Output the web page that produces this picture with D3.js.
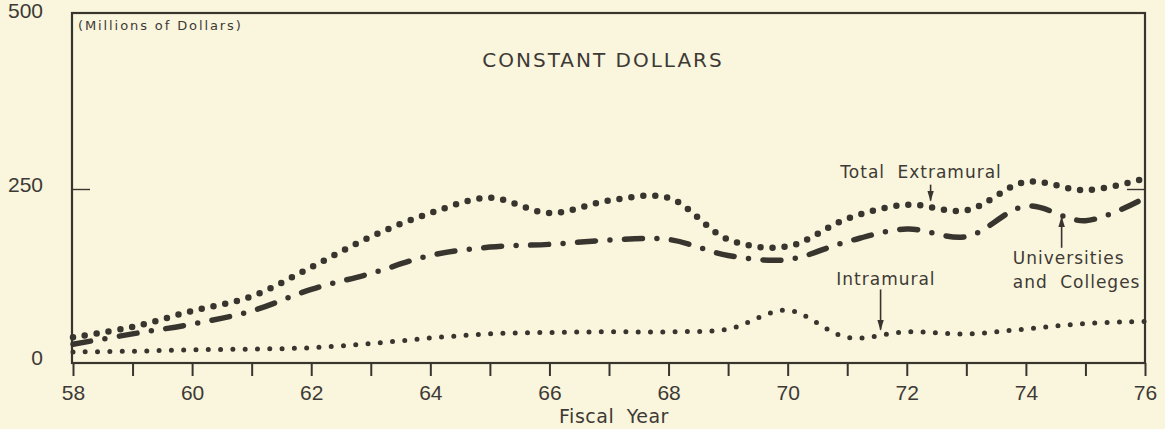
<!DOCTYPE html>
<html>
<head>
<meta charset="utf-8">
<script src="https://cdn.jsdelivr.net/npm/d3@7"></script>
<style>
  body { margin: 0; background: #faf5dd; }
  text { fill: #3d3a35; }
  .num { font-family: "Liberation Sans", Arial, sans-serif; font-size: 21px; }
  .lbl { font-family: "DejaVu Sans", sans-serif; }
</style>
</head>
<body>
<svg id="chart" width="1165" height="429"></svg>
<script>
// fiscal years and values (millions of constant dollars)
const years = [58, 59, 60, 61, 62, 63, 64, 65, 66, 67, 68, 69, 70, 71, 72, 73, 74, 75, 76];
const totalExtramural = [37, 52, 75, 96, 138, 182, 216, 238, 216, 234, 238, 178, 168, 208, 228, 220, 261, 249, 266];
const universities   = [27, 42, 56, 75, 106, 129, 155, 167, 171, 177, 178, 155, 149, 175, 193, 182, 226, 205, 238];
const intramural     = [16, 17, 19, 20, 22, 28, 36, 42, 44, 45, 45, 49, 76, 37, 45, 42, 49, 57, 60];
const yTicks = [0, 250, 500];

const ink = "#38352f";
const svg = d3.select("#chart");
const box = {left: 72, right: 1145, top: 13, bottom: 363};

let x = d3.scaleLinear().domain([58, 76]).range([73, box.right]);
let y = d3.scaleLinear().domain([0, 500]).range([box.bottom, 16]);

// frame
svg.append("rect")
    .attr("x", box.left)
    .attr("y", box.top)
    .attr("width", box.right - box.left)
    .attr("height", box.bottom - box.top)
    .attr("fill", "none")
    .attr("stroke", ink)
    .attr("stroke-width", 2.2);

// bottom axis: a tick every year, a label every other year
let xAxis = d3.axisBottom(x)
    .tickValues(years)
    .tickSize(13)
    .tickPadding(9)
    .tickFormat(function(d) { return d % 2 === 0 ? d : ""; });
let gx = svg.append("g")
    .attr("transform", "translate(0," + box.bottom + ")")
    .call(xAxis);
gx.select(".domain").remove();
gx.selectAll("line").attr("stroke", ink).attr("stroke-width", 2);
gx.selectAll("text").attr("class", "num").attr("fill", ink);

// left labels and the short inner tick at 250
svg.selectAll(".ylab")
    .data(yTicks)
    .enter().append("text")
    .attr("class", "num ylab")
    .attr("x", 43)
    .attr("y", function(d) { return y(d) + 2; })
    .attr("text-anchor", "end")
    .text(function(d) { return d; });

svg.selectAll(".ytick")
    .data([250, 250])
    .enter().append("line")
    .attr("x1", function(d, i) { return i === 0 ? box.left : box.right - 18; })
    .attr("x2", function(d, i) { return i === 0 ? box.left + 18 : box.right; })
    .attr("y1", function(d) { return y(d); })
    .attr("y2", function(d) { return y(d); })
    .attr("stroke", ink)
    .attr("stroke-width", 1.4);

// series
let line = d3.line()
    .x(function(d, i) { return x(years[i]); })
    .y(function(d) { return y(d); })
    .curve(d3.curveCatmullRom.alpha(0.5));

let series = [
    {values: totalExtramural, width: 6.5, dash: "0 12"},
    {values: universities, width: 5.5, dash: "18 14.5 0 14.5"},
    {values: intramural, width: 5, dash: "0 12.3"}
];
svg.selectAll(".series")
    .data(series)
    .enter().append("path")
    .attr("class", "series")
    .attr("d", function(d) { return line(d.values); })
    .attr("fill", "none")
    .attr("stroke", ink)
    .attr("stroke-width", function(d) { return d.width; })
    .attr("stroke-linecap", "round")
    .attr("stroke-dasharray", function(d) { return d.dash; });

// arrowhead
svg.append("defs").append("marker")
    .attr("id", "head")
    .attr("markerUnits", "userSpaceOnUse")
    .attr("viewBox", "0 -4 11 8")
    .attr("refX", 10)
    .attr("refY", 0)
    .attr("markerWidth", 11)
    .attr("markerHeight", 8)
    .attr("orient", "auto")
    .append("path")
    .attr("d", "M0,-3.3L11,0L0,3.3Z")
    .attr("fill", ink);

// annotations, placed in data units
let arrows = [
    {x: 72.4, from: 257, to: 234},
    {x: 71.56, from: 106, to: 48},
    {x: 74.6, from: 166, to: 210}
];
svg.selectAll(".arrow")
    .data(arrows)
    .enter().append("line")
    .attr("x1", function(d) { return x(d.x); })
    .attr("x2", function(d) { return x(d.x); })
    .attr("y1", function(d) { return y(d.from); })
    .attr("y2", function(d) { return y(d.to); })
    .attr("stroke", ink)
    .attr("stroke-width", 1.6)
    .attr("marker-end", "url(#head)");

let notes = [
    {text: "Total Extramural", x: 72.24, y: 267, anchor: "middle"},
    {text: "Intramural", x: 71.65, y: 112, anchor: "middle"},
    {text: "Universities", x: 73.78, y: 143, anchor: "start"},
    {text: "and Colleges", x: 73.78, y: 108, anchor: "start"}
];
svg.selectAll(".note")
    .data(notes)
    .enter().append("text")
    .attr("class", "lbl note")
    .attr("x", function(d) { return x(d.x); })
    .attr("y", function(d) { return y(d.y); })
    .attr("text-anchor", function(d) { return d.anchor; })
    .style("font-size", "17px")
    .style("letter-spacing", "1px")
    .style("word-spacing", "6px")
    .text(function(d) { return d.text; });

svg.append("text")
    .attr("class", "lbl")
    .attr("x", 603)
    .attr("y", 67)
    .attr("text-anchor", "middle")
    .style("font-size", "20px")
    .style("letter-spacing", "2px")
    .text("CONSTANT DOLLARS");

svg.append("text")
    .attr("class", "lbl")
    .attr("x", 78)
    .attr("y", 30)
    .style("font-size", "13px")
    .style("letter-spacing", "1.9px")
    .text("(Millions of Dollars)");

svg.append("text")
    .attr("class", "lbl")
    .attr("x", 614)
    .attr("y", 423)
    .attr("text-anchor", "middle")
    .style("font-size", "19px")
    .style("letter-spacing", "0.5px")
    .style("word-spacing", "6px")
    .text("Fiscal Year");
</script>
</body>
</html>
